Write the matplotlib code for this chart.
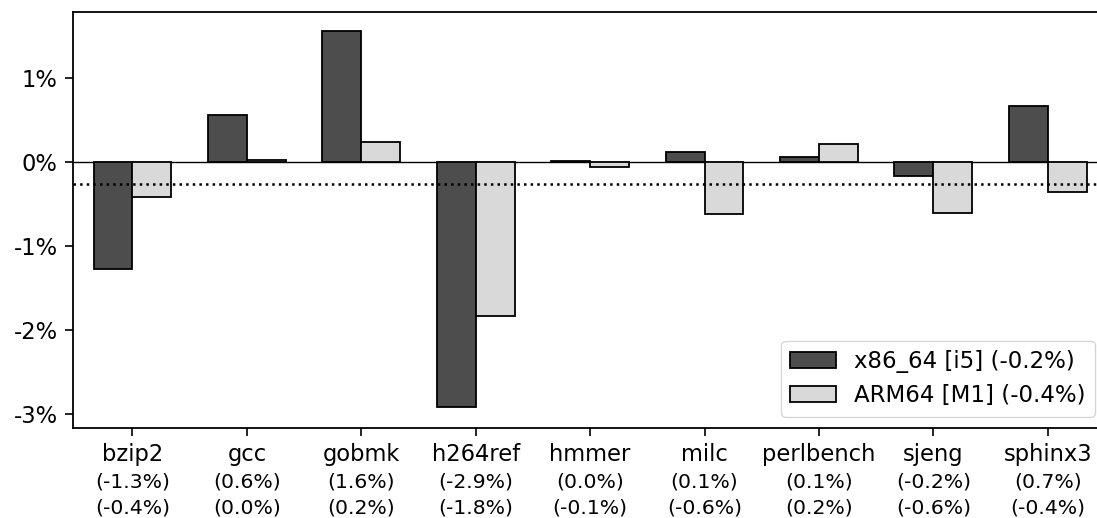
import numpy as np
import matplotlib
matplotlib.use("Agg")
import matplotlib.pyplot as plt
from matplotlib.ticker import FuncFormatter

# Relative run-time change per SPEC benchmark (%)
benchmarks = ["bzip2", "gcc", "gobmk", "h264ref", "hmmer", "milc", "perlbench", "sjeng", "sphinx3"]
x86_64_i5 = [-1.27, 0.56, 1.56, -2.92, 0.01, 0.12, 0.06, -0.16, 0.67]
arm64_m1 = [-0.42, 0.02, 0.24, -1.83, -0.06, -0.62, 0.22, -0.61, -0.36]
yticks = [-3, -2, -1, 0, 1]

dark = "#4d4d4d"
light = "#d9d9d9"

fig = plt.figure(figsize=(10.97, 5.18), dpi=100)
ax = fig.add_axes([73 / 1097, 1 - 428 / 518, 1034.2 / 1097, 416 / 518])

x = np.arange(len(benchmarks))
w = 0.34

mean_x86 = np.mean(x86_64_i5)
mean_arm = np.mean(arm64_m1)
mean_all = np.mean(x86_64_i5 + arm64_m1)

ax.axhline(0, color="black", lw=1.0, zorder=1)
ax.bar(x - w / 2, x86_64_i5, w, color=dark, edgecolor="black", lw=1.3, zorder=2,
       label=f"x86_64 [i5] ({mean_x86:.1f}%)")
ax.bar(x + w / 2, arm64_m1, w, color=light, edgecolor="black", lw=1.3, zorder=2,
       label=f"ARM64 [M1] ({mean_arm:.1f}%)")
ax.axhline(mean_all, color="black", lw=1.8, ls=":", zorder=3)

ax.set_xlim(-0.52, 8.52)
ax.set_ylim(-3.17, 1.79)
ax.set_yticks(yticks)
ax.yaxis.set_major_formatter(FuncFormatter(lambda v, _: f"{int(round(v))}%"))
ax.set_xticks(x)
ax.set_xticklabels(benchmarks)
ax.tick_params(axis="both", labelsize=16.3, length=5.5, width=1.2, pad=5.5)

for s in ax.spines.values():
    s.set_linewidth(1.3)

# Per-benchmark values printed under each name
for xi, a, b in zip(x, x86_64_i5, arm64_m1):
    for k, v in enumerate((a, b)):
        ax.annotate(f"({v:.1f}%)", xy=(xi, 0), xycoords=("data", "axes fraction"),
                    xytext=(0, -32.0 - 18.7 * k), textcoords="offset points",
                    ha="center", va="top", fontsize=14.7, annotation_clip=False)

leg = ax.legend(loc="lower right", bbox_to_anchor=(1095 / 1097, 1 - 416.5 / 518),
                bbox_transform=fig.transFigure, borderaxespad=0, fontsize=16.5)

fig.savefig("out.png", dpi=100)
